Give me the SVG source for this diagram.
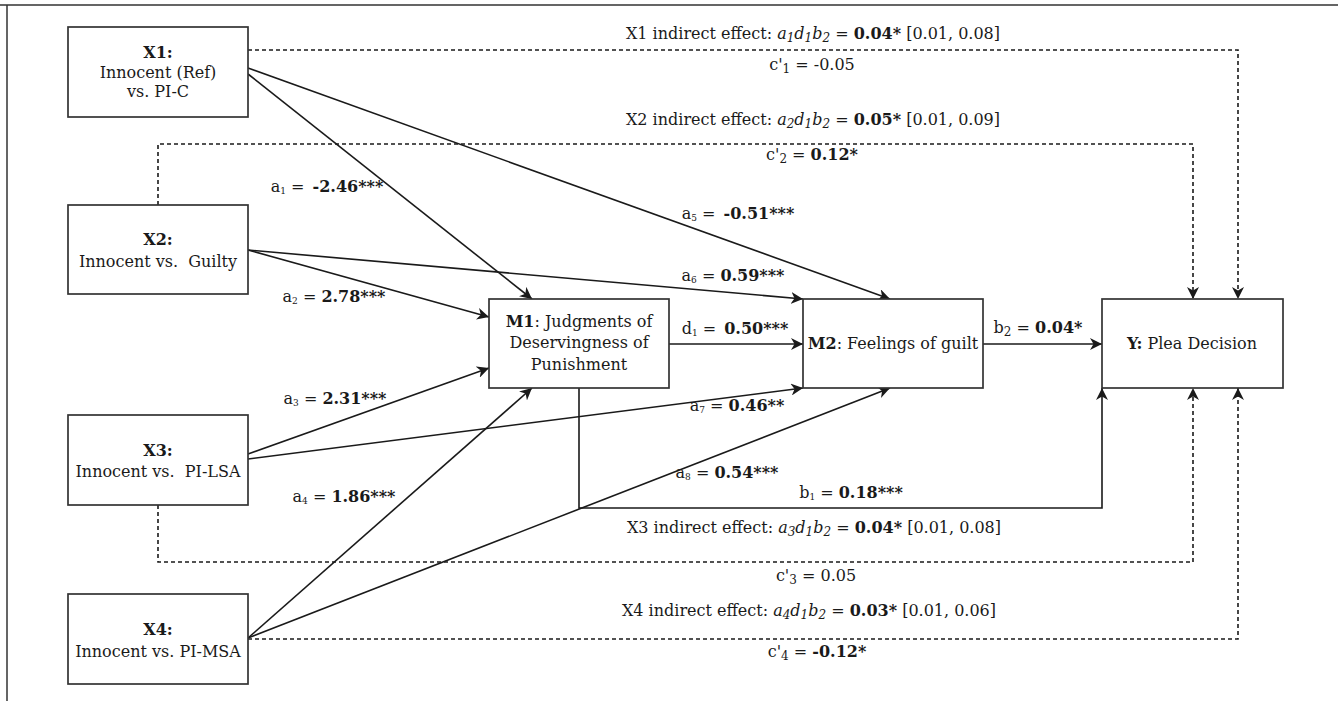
<svg xmlns="http://www.w3.org/2000/svg" width="1338" height="701" viewBox="0 0 1338 701">
<defs>
<style>
text{font-family:"DejaVu Serif","Liberation Serif",serif;font-size:16px;fill:#1a1a1a}
.b{font-weight:bold}
.i{font-style:italic}
.s{font-size:9px}
.si{font-size:12px;font-style:italic}
.sn{font-size:12px}
.box{fill:#fff;stroke:#333;stroke-width:1.7}
.ln{fill:none;stroke:#1a1a1a;stroke-width:1.6}
.ds{fill:none;stroke:#1a1a1a;stroke-width:1.6;stroke-dasharray:4 3}
.frame{fill:none;stroke:#333;stroke-width:1.5}
</style>
<marker id="ah" markerUnits="userSpaceOnUse" markerWidth="13" markerHeight="12" refX="12" refY="6" orient="auto" viewBox="0 0 13 12">
<path d="M0,0 L12,6 L0,12 L3.5,6 z" fill="#1a1a1a"/>
</marker>
</defs>
<rect width="1338" height="701" fill="#fff"/>
<path class="frame" d="M0,5 H1338 M7,5 V701"/>

<g id="connectors">
<path class="ds" d="M248,50 H1238 V299" marker-end="url(#ah)"/>
<path class="ds" d="M158,205 V144 H1193 V299" marker-end="url(#ah)"/>
<path class="ds" d="M158,505 V562 H1193 V388" marker-end="url(#ah)"/>
<path class="ds" d="M248,639 H1238 V388" marker-end="url(#ah)"/>
<path class="ln" d="M248,74 L532,299" marker-end="url(#ah)"/>
<path class="ln" d="M248,68 L890,299" marker-end="url(#ah)"/>
<path class="ln" d="M248,250 L489,317" marker-end="url(#ah)"/>
<path class="ln" d="M248,250 L803,299" marker-end="url(#ah)"/>
<path class="ln" d="M248,454 L489,368" marker-end="url(#ah)"/>
<path class="ln" d="M248,459 L803,388" marker-end="url(#ah)"/>
<path class="ln" d="M248,638 L532,388" marker-end="url(#ah)"/>
<path class="ln" d="M248,638 L890,388" marker-end="url(#ah)"/>
<path class="ln" d="M669,344 H803" marker-end="url(#ah)"/>
<path class="ln" d="M983,344 H1102" marker-end="url(#ah)"/>
<path class="ln" d="M579,388 V508 H1102 V388" marker-end="url(#ah)"/>
</g>

<g id="X1">
<rect class="box" x="68" y="27" width="180" height="90"/>
<text x="158" y="58" text-anchor="middle" class="b">X1:</text>
<text x="158" y="78" text-anchor="middle">Innocent (Ref)</text>
<text x="158" y="97" text-anchor="middle">vs. PI-C</text>
</g>
<g id="X2">
<rect class="box" x="68" y="205" width="180" height="89"/>
<text x="158" y="245" text-anchor="middle" class="b">X2:</text>
<text x="158" y="267" text-anchor="middle" xml:space="preserve">Innocent vs.  Guilty</text>
</g>
<g id="X3">
<rect class="box" x="68" y="415" width="180" height="90"/>
<text x="158" y="456" text-anchor="middle" class="b">X3:</text>
<text x="158" y="477" text-anchor="middle" xml:space="preserve">Innocent vs.  PI-LSA</text>
</g>
<g id="X4">
<rect class="box" x="68" y="594" width="180" height="90"/>
<text x="158" y="635" text-anchor="middle" class="b">X4:</text>
<text x="158" y="657" text-anchor="middle">Innocent vs. PI-MSA</text>
</g>
<g id="M1">
<rect class="box" x="489" y="299" width="180" height="89"/>
<text x="579" y="327" text-anchor="middle"><tspan class="b">M1</tspan>: Judgments of</text>
<text x="579" y="348" text-anchor="middle">Deservingness of</text>
<text x="579" y="370" text-anchor="middle">Punishment</text>
</g>
<g id="M2">
<rect class="box" x="803" y="299" width="180" height="89"/>
<text x="893" y="349" text-anchor="middle"><tspan class="b">M2</tspan>: Feelings of guilt</text>
</g>
<g id="Y">
<rect class="box" x="1102" y="299" width="181" height="89"/>
<text x="1192" y="349" text-anchor="middle"><tspan class="b">Y:</tspan> Plea Decision</text>
</g>

<g id="labels">
<text x="813" y="39" text-anchor="middle">X1 indirect effect: <tspan class="i">a</tspan><tspan class="si" dy="3">1</tspan><tspan class="i" dy="-3">d</tspan><tspan class="si" dy="3">1</tspan><tspan class="i" dy="-3">b</tspan><tspan class="si" dy="3">2</tspan><tspan dy="-3"> = </tspan><tspan class="b">0.04*</tspan> [0.01, 0.08]</text>
<text x="812" y="70" text-anchor="middle">c'<tspan class="sn" dy="3">1</tspan><tspan dy="-3"> = -0.05</tspan></text>
<text x="813" y="125" text-anchor="middle">X2 indirect effect: <tspan class="i">a</tspan><tspan class="si" dy="3">2</tspan><tspan class="i" dy="-3">d</tspan><tspan class="si" dy="3">1</tspan><tspan class="i" dy="-3">b</tspan><tspan class="si" dy="3">2</tspan><tspan dy="-3"> = </tspan><tspan class="b">0.05*</tspan> [0.01, 0.09]</text>
<text x="812" y="160" text-anchor="middle">c'<tspan class="sn" dy="3">2</tspan><tspan dy="-3"> = </tspan><tspan class="b">0.12*</tspan></text>
<text x="814" y="533" text-anchor="middle">X3 indirect effect: <tspan class="i">a</tspan><tspan class="si" dy="3">3</tspan><tspan class="i" dy="-3">d</tspan><tspan class="si" dy="3">1</tspan><tspan class="i" dy="-3">b</tspan><tspan class="si" dy="3">2</tspan><tspan dy="-3"> = </tspan><tspan class="b">0.04*</tspan> [0.01, 0.08]</text>
<text x="816" y="581" text-anchor="middle">c'<tspan class="sn" dy="3">3</tspan><tspan dy="-3"> = 0.05</tspan></text>
<text x="809" y="616" text-anchor="middle">X4 indirect effect: <tspan class="i">a</tspan><tspan class="si" dy="3">4</tspan><tspan class="i" dy="-3">d</tspan><tspan class="si" dy="3">1</tspan><tspan class="i" dy="-3">b</tspan><tspan class="si" dy="3">2</tspan><tspan dy="-3"> = </tspan><tspan class="b">0.03*</tspan> [0.01, 0.06]</text>
<text x="817" y="657" text-anchor="middle">c'<tspan class="sn" dy="3">4</tspan><tspan dy="-3"> = </tspan><tspan class="b">-0.12*</tspan></text>

<text x="327" y="192" text-anchor="middle">a<tspan class="s" dy="2">1</tspan><tspan dy="-2"> = </tspan><tspan class="b" dx="3">-2.46***</tspan></text>
<text x="334" y="302" text-anchor="middle">a<tspan class="s" dy="2">2</tspan><tspan dy="-2"> = </tspan><tspan class="b">2.78***</tspan></text>
<text x="335" y="404" text-anchor="middle">a<tspan class="s" dy="2">3</tspan><tspan dy="-2"> = </tspan><tspan class="b">2.31***</tspan></text>
<text x="344" y="502" text-anchor="middle">a<tspan class="s" dy="2">4</tspan><tspan dy="-2"> = </tspan><tspan class="b">1.86***</tspan></text>
<text x="738" y="219" text-anchor="middle">a<tspan class="s" dy="2">5</tspan><tspan dy="-2"> = </tspan><tspan class="b" dx="3">-0.51***</tspan></text>
<text x="733" y="281" text-anchor="middle">a<tspan class="s" dy="2">6</tspan><tspan dy="-2"> = </tspan><tspan class="b">0.59***</tspan></text>
<text x="735" y="334" text-anchor="middle">d<tspan class="s" dy="2">1</tspan><tspan dy="-2"> = </tspan><tspan class="b" dx="3">0.50***</tspan></text>
<text x="737" y="411" text-anchor="middle">a<tspan class="s" dy="2">7</tspan><tspan dy="-2"> = </tspan><tspan class="b">0.46**</tspan></text>
<text x="727" y="478" text-anchor="middle">a<tspan class="s" dy="2">8</tspan><tspan dy="-2"> = </tspan><tspan class="b">0.54***</tspan></text>
<text x="851" y="498" text-anchor="middle">b<tspan class="s" dy="2">1</tspan><tspan dy="-2"> = </tspan><tspan class="b">0.18***</tspan></text>
<text x="1038" y="333" text-anchor="middle">b<tspan class="sn" dy="3">2</tspan><tspan dy="-3"> = </tspan><tspan class="b">0.04*</tspan></text>
</g>
</svg>
